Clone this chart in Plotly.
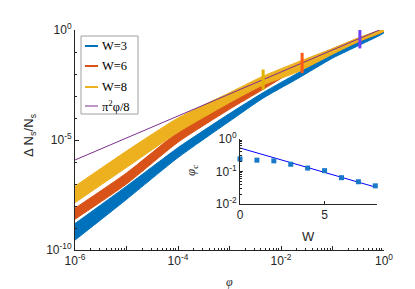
import numpy as np
import plotly.graph_objects as go

# ---------------- data ----------------
# band edges: log10(phi), upper log10(dN/N), lower log10(dN/N)
logphi_pts = [-6, -5, -4, -3, -2.35, -1.67, -1, -0.47, 0]
w3_upper = [-8.8, -7.1, -5.35, -3.8, -2.85, -1.95, -1.05, -0.45, -0.02]
w3_lower = [-9.55, -7.7, -5.8, -4.15, -3.1, -2.2, -1.28, -0.68, -0.12]
w6_upper = [-8.1, -6.5, -4.65, -3.25, -2.4, -1.5, -0.85, -0.35, 0.0]
w6_lower = [-8.6, -7.0, -5.1, -3.6, -2.7, -1.75, -1.05, -0.5, -0.05]
w8_upper = [-7.1, -5.5, -4.0, -2.85, -2.1, -1.45, -0.85, -0.33, 0.02]
w8_lower = [-7.85, -6.25, -4.65, -3.3, -2.5, -1.9, -1.1, -0.5, -0.05]

theory_phi = [1e-6, 1.0]               # pi^2 phi / 8 line
phi_c_marks = [0.0045, 0.0257, 0.34]   # vertical bars at phi_c

inset_W = [0, 1, 2, 3, 4, 5, 6, 7, 8]
inset_phic = [0.24, 0.22, 0.21, 0.165, 0.126, 0.105, 0.064, 0.048, 0.036]
fit_W = [0, 8]
fit_phic = [0.52, 0.033]

legend_labels = ["W=3", "W=6", "W=8", "π<sup>2</sup>φ/8"]

# ---------------- style ----------------
C_BLUE = "#0072BD"
C_RED = "#D95319"
C_YEL = "#EDB120"
C_PUR = "#7E2F8E"
BAR_COLORS = ["#E2B000", "#FF5A14", "#7040FF"]
AX = "#262626"
TICKFONT = dict(family="Liberation Sans, Arial", size=12, color=AX)

# plot-area pixel geometry
L, R, T, B = 67, 376, 22, 242
W_PX, H_PX = 415, 289

def px(xp):
    return (xp - L) / (R - L)

def py(yp):
    return (B - yp) / (B - T)

fig = go.Figure()

def band(upper, lower, color):
    xs = [10 ** v for v in logphi_pts] + [10 ** v for v in logphi_pts[::-1]]
    ys = [10 ** v for v in upper] + [10 ** v for v in lower[::-1]]
    fig.add_trace(go.Scatter(x=xs, y=ys, mode="lines", fill="toself",
                             fillcolor=color, line=dict(color=color, width=1, shape="spline", smoothing=0.6),
                             showlegend=False, hoverinfo="skip"))

band(w3_upper, w3_lower, C_BLUE)
band(w6_upper, w6_lower, C_RED)
band(w8_upper, w8_lower, C_YEL)

theory = [np.pi ** 2 * p / 8 for p in theory_phi]
fig.add_trace(go.Scatter(x=theory_phi, y=theory, mode="lines",
                         line=dict(color=C_PUR, width=1), showlegend=False))

BAR_HALF = 10 ** 0.46
for p, c in zip(phi_c_marks, BAR_COLORS):
    yc = np.pi ** 2 * p / 8
    fig.add_trace(go.Scatter(x=[p, p], y=[yc / BAR_HALF, yc * BAR_HALF], mode="lines",
                             line=dict(color=c, width=3), showlegend=False))

# inset
fig.add_trace(go.Scatter(x=fit_W, y=fit_phic, mode="lines", xaxis="x2", yaxis="y2",
                         line=dict(color="#0000FF", width=1), showlegend=False))
fig.add_trace(go.Scatter(x=inset_W, y=inset_phic, mode="markers", xaxis="x2", yaxis="y2",
                         marker=dict(symbol="square", size=5, color="#1A78C8"),
                         showlegend=False, cliponaxis=False))

# manual legend (box, line samples, labels)
shapes = [dict(type="rect", xref="paper", yref="paper",
               x0=px(73), x1=px(130), y0=py(106), y1=py(28),
               line=dict(color="#A0A0A0", width=1), fillcolor="white", layer="above")]
annotations = []
leg_y = [38, 58, 79, 98]
for lab, c, w, yy in zip(legend_labels, [C_BLUE, C_RED, C_YEL, C_PUR], [2, 2, 2, 1], leg_y):
    shapes.append(dict(type="line", xref="paper", yref="paper", x0=px(77), x1=px(90),
                       y0=py(yy), y1=py(yy), line=dict(color=c, width=w), layer="above"))
    annotations.append(dict(text=lab, xref="paper", yref="paper", x=px(92), y=py(yy),
                            xanchor="left", yanchor="middle", showarrow=False,
                            font=dict(family="Liberation Serif, Times New Roman", size=12.5, color="black")))

# axis titles as annotations (exact placement)
def title(text, xp, yp, angle=0, family="Liberation Sans", size=13):
    annotations.append(dict(text=text, xref="paper", yref="paper", x=px(xp), y=py(yp),
                            xanchor="center", yanchor="middle", showarrow=False, textangle=angle,
                            font=dict(family=family, size=size, color=AX)))

title("<i>φ</i>", 221, 274, family="Liberation Serif", size=12)
title("Δ N<sub>s</sub>/N<sub>s</sub>", 21, 127, angle=-90)
title("W", 300, 228)
title("<i>φ</i><sub>c</sub>", 183, 163, angle=-90, family="Liberation Serif", size=13)

# axes
xmaj = [10 ** k for k in range(-6, 1)]
xtxt = ["10<sup>-6</sup>", "", "10<sup>-4</sup>", "", "10<sup>-2</sup>", "", "10<sup>0</sup>"]
xminor = [m * 10 ** k for k in range(-6, 0) for m in range(2, 10)]
ymaj = [1e-10, 1e-5, 1]
ytxt = ["10<sup>-10</sup>", "10<sup>-5</sup>", "10<sup>0</sup>"]
yminor = [10 ** k for k in range(-9, 0) if k != -5]

common = dict(ticks="inside", tickcolor=AX, showline=True, linecolor=AX, linewidth=1,
              showgrid=False, zeroline=False, tickfont=TICKFONT, automargin=False)

fig.update_layout(
    width=W_PX, height=H_PX,
    margin=dict(l=L, r=W_PX - R, t=T, b=H_PX - B),
    paper_bgcolor="white", plot_bgcolor="white",
    showlegend=False,
    shapes=shapes, annotations=annotations,
    xaxis=dict(type="log", range=[-6, 0], tickmode="array", tickvals=xmaj, ticktext=xtxt,
               ticklen=4, **common,
               minor=dict(tickmode="array", tickvals=xminor, ticks="inside", ticklen=2, tickcolor=AX)),
    yaxis=dict(type="log", range=[-10, 0], tickmode="array", tickvals=ymaj, ticktext=ytxt,
               ticklen=4, **common,
               minor=dict(tickmode="array", tickvals=yminor, ticks="inside", ticklen=2, tickcolor=AX)),
    xaxis2=dict(domain=[px(232), px(369)], anchor="y2", range=[0, 8.1], tickvals=[0, 5],
                ticklen=3, **common),
    yaxis2=dict(domain=[py(196), py(130.7)], anchor="x2", type="log", range=[-2, 0],
                tickmode="array", tickvals=[1e-2, 1e-1, 1],
                ticktext=["10<sup>-2</sup>", "10<sup>-1</sup>", "10<sup>0</sup>"],
                ticklen=3, **common,
                minor=dict(tickmode="array",
                           tickvals=[m * 10 ** k for k in (-2, -1) for m in range(2, 10)],
                           ticks="inside", ticklen=2, tickcolor=AX)),
)

fig.write_html("out.html")
